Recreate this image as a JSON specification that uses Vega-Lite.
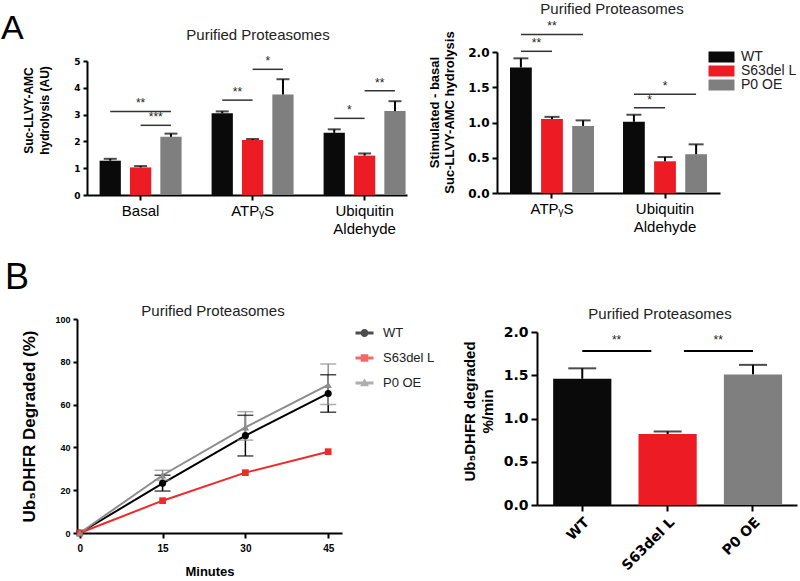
{
  "$schema": "https://vega.github.io/schema/vega-lite/v6.json",
  "autosize": {"type": "none"},
  "padding": {"left": 77, "top": 52, "right": 723, "bottom": 529},
  "config": {
    "font": "Liberation Sans",
    "view": {"stroke": null},
    "axis": {"domainColor": "#000", "domainWidth": 2, "tickColor": "#000", "tickWidth": 2, "labelColor": "#000", "titleColor": "#000", "grid": false, "labelFont": "Liberation Sans", "titleFont": "Liberation Sans", "labelOverlap": false},
    "title": {"font": "Liberation Sans", "fontWeight": "normal", "color": "#222", "fontSize": 15},
    "legend": {"labelFont": "Liberation Sans", "labelColor": "#222"}
  },
  "datasets": {
    "tl": [
      {"cond": "Basal", "series": "WT", "mean": 1.28, "hi": 1.35},
      {"cond": "Basal", "series": "S63del L", "mean": 1.03, "hi": 1.08},
      {"cond": "Basal", "series": "P0 OE", "mean": 2.17, "hi": 2.29},
      {"cond": "ATPᵧS", "series": "WT", "mean": 3.05, "hi": 3.12},
      {"cond": "ATPᵧS", "series": "S63del L", "mean": 2.05, "hi": 2.09},
      {"cond": "ATPᵧS", "series": "P0 OE", "mean": 3.75, "hi": 4.32},
      {"cond": "Ubiquitin Aldehyde", "series": "WT", "mean": 2.32, "hi": 2.45},
      {"cond": "Ubiquitin Aldehyde", "series": "S63del L", "mean": 1.47, "hi": 1.55},
      {"cond": "Ubiquitin Aldehyde", "series": "P0 OE", "mean": 3.13, "hi": 3.5}
    ],
    "tlsig": [
      {"cond": "Basal", "pair": "WG", "y": 3.12, "label": "**"},
      {"cond": "Basal", "pair": "RG", "y": 2.6, "label": "***"},
      {"cond": "ATPᵧS", "pair": "WR", "y": 3.54, "label": "**"},
      {"cond": "ATPᵧS", "pair": "RG", "y": 4.69, "label": "*"},
      {"cond": "Ubiquitin Aldehyde", "pair": "WR", "y": 2.86, "label": "*"},
      {"cond": "Ubiquitin Aldehyde", "pair": "RG", "y": 3.89, "label": "**"}
    ],
    "tr": [
      {"cond": "ATPᵧS", "series": "WT", "mean": 1.78, "hi": 1.91},
      {"cond": "ATPᵧS", "series": "S63del L", "mean": 1.05, "hi": 1.08},
      {"cond": "ATPᵧS", "series": "P0 OE", "mean": 0.95, "hi": 1.03},
      {"cond": "Ubiquitin Aldehyde", "series": "WT", "mean": 1.01, "hi": 1.11},
      {"cond": "Ubiquitin Aldehyde", "series": "S63del L", "mean": 0.45, "hi": 0.51},
      {"cond": "Ubiquitin Aldehyde", "series": "P0 OE", "mean": 0.55, "hi": 0.69}
    ],
    "trsig": [
      {"cond": "ATPᵧS", "pair": "WG", "y": 2.25, "label": "**"},
      {"cond": "ATPᵧS", "pair": "WR", "y": 2.01, "label": "**"},
      {"cond": "Ubiquitin Aldehyde", "pair": "WG", "y": 1.4, "label": "*"},
      {"cond": "Ubiquitin Aldehyde", "pair": "WR", "y": 1.21, "label": "*"}
    ],
    "bl": [
      {"minute": 0, "series": "WT", "value": 0, "lo": null, "hi": null},
      {"minute": 15, "series": "WT", "value": 23.2, "lo": 19.6, "hi": 27},
      {"minute": 30, "series": "WT", "value": 45.5, "lo": 36, "hi": 55},
      {"minute": 45, "series": "WT", "value": 65.2, "lo": 56.4, "hi": 74},
      {"minute": 0, "series": "S63del L", "value": 0, "lo": null, "hi": null},
      {"minute": 15, "series": "S63del L", "value": 15.1, "lo": null, "hi": null},
      {"minute": 30, "series": "S63del L", "value": 28.2, "lo": null, "hi": null},
      {"minute": 45, "series": "S63del L", "value": 38, "lo": null, "hi": null},
      {"minute": 0, "series": "P0 OE", "value": 0, "lo": null, "hi": null},
      {"minute": 15, "series": "P0 OE", "value": 27, "lo": 24.7, "hi": 29.3},
      {"minute": 30, "series": "P0 OE", "value": 49.4, "lo": 43.4, "hi": 56.7},
      {"minute": 45, "series": "P0 OE", "value": 69.2, "lo": 60, "hi": 79}
    ],
    "br": [
      {"series": "WT", "mean": 1.46, "hi": 1.58},
      {"series": "S63del L", "mean": 0.82, "hi": 0.85},
      {"series": "P0 OE", "mean": 1.51, "hi": 1.62}
    ],
    "brsig": [
      {"from": "WT", "to": "S63del L", "y": 1.78, "label": "**"},
      {"from": "S63del L", "to": "P0 OE", "y": 1.78, "label": "**"}
    ]
  },
  "spacing": 0,
  "bounds": "flush",
  "resolve": {"scale": {"color": "independent", "shape": "independent", "xOffset": "independent"}, "legend": {"color": "independent", "shape": "independent"}},
  "vconcat": [
    {
      "spacing": 0,
      "bounds": "flush",
      "resolve": {"scale": {"color": "independent", "shape": "independent", "xOffset": "independent"}, "legend": {"color": "independent", "shape": "independent"}},
      "hconcat": [
        {
          "columns": 2,
          "spacing": 0,
          "bounds": "flush",
          "resolve": {"scale": {"color": "independent", "shape": "independent", "xOffset": "independent"}, "legend": {"color": "independent", "shape": "independent"}},
          "concat": [
            {"width": 10, "height": 9, "data": {"values": [{"s": 1}]}, "mark": {"type": "point", "opacity": 0, "size": 0}, "encoding": {}},
            {"width": 1, "height": 1, "data": {"values": [{"s": 1}]}, "mark": {"type": "point", "opacity": 0, "size": 0}, "encoding": {}},
            {"width": 1, "height": 1, "data": {"values": [{"s": 1}]}, "mark": {"type": "point", "opacity": 0, "size": 0}, "encoding": {}},
            {
              "width": 320,
              "height": 134,
              "title": {"text": "Purified Proteasomes", "frame": "group", "anchor": "middle", "dx": 11, "offset": 0, "baseline": "alphabetic"},
              "layer": [
                {
                  "data": {"name": "tl"},
                  "mark": {"type": "bar"},
                  "encoding": {
                    "x": {"field": "cond", "type": "nominal", "sort": ["Basal", "ATPᵧS", "Ubiquitin Aldehyde"], "scale": {"domain": ["Basal", "ATPᵧS", "Ubiquitin Aldehyde"], "paddingInner": 0.268, "paddingOuter": 0.0625, "align": 0.9}, "axis": {"title": null, "labelAngle": 0, "labelFontSize": 15, "labelOverlap": false, "labelExpr": "datum.value == 'Ubiquitin Aldehyde' ? ['Ubiquitin', 'Aldehyde'] : datum.value", "labelLineHeight": 18, "tickSize": 5, "labelPadding": 3}},
                    "xOffset": {"field": "series", "type": "nominal", "sort": ["WT", "S63del L", "P0 OE"], "scale": {"domain": ["WT", "S63del L", "P0 OE"], "paddingInner": 0.3, "paddingOuter": 0}},
                    "y": {"field": "mean", "type": "quantitative", "scale": {"domain": [0, 5], "nice": false}, "axis": {"title": ["Suc-LLVY-AMC", "hydrolysis (AU)"], "values": [0, 1, 2, 3, 4, 5], "tickCount": 10, "format": "d", "labelOverlap": false, "labelFlush": false, "labelFont": "DejaVu Sans", "labelFontSize": 9, "labelFontWeight": "bold", "tickSize": 4, "labelPadding": 3, "titleFontSize": 12, "titleFontWeight": "bold", "titlePadding": 22, "titleY": 49, "titleLineHeight": 16}},
                    "color": {"field": "series", "type": "nominal", "scale": {"domain": ["WT", "S63del L", "P0 OE"], "range": ["#0a0a0a", "#ed1c24", "#7f7f7f"]}, "legend": null}
                  }
                },
                {
                  "data": {"name": "tl"},
                  "mark": {"type": "rule", "color": "#000", "strokeWidth": 2},
                  "encoding": {
                    "x": {"field": "cond", "type": "nominal"},
                    "xOffset": {"field": "series", "type": "nominal"},
                    "y": {"field": "mean", "type": "quantitative"},
                    "y2": {"field": "hi"}
                  }
                },
                {
                  "data": {"name": "tl"},
                  "mark": {"type": "tick", "orient": "horizontal", "size": 13, "thickness": 2, "color": "#000"},
                  "encoding": {
                    "x": {"field": "cond", "type": "nominal"},
                    "xOffset": {"field": "series", "type": "nominal"},
                    "y": {"field": "hi", "type": "quantitative"}
                  }
                },
                {
                  "data": {"name": "tlsig"},
                  "transform": [{"filter": "datum.pair === 'WG'"}],
                  "mark": {"type": "rule", "color": "#333", "strokeWidth": 1.5},
                  "encoding": {"x": {"field": "cond", "type": "nominal", "bandPosition": 0.13}, "x2": {"field": "cond", "bandPosition": 0.87}, "y": {"field": "y", "type": "quantitative"}}
                },
                {
                  "data": {"name": "tlsig"},
                  "transform": [{"filter": "datum.pair === 'WG'"}],
                  "mark": {"type": "text", "baseline": "bottom", "dy": -1, "fontSize": 12, "color": "#222"},
                  "encoding": {"x": {"field": "cond", "type": "nominal", "bandPosition": 0.5}, "y": {"field": "y", "type": "quantitative"}, "text": {"field": "label"}}
                },
                {
                  "data": {"name": "tlsig"},
                  "transform": [{"filter": "datum.pair === 'RG'"}],
                  "mark": {"type": "rule", "color": "#333", "strokeWidth": 1.5},
                  "encoding": {"x": {"field": "cond", "type": "nominal", "bandPosition": 0.5}, "x2": {"field": "cond", "bandPosition": 0.87}, "y": {"field": "y", "type": "quantitative"}}
                },
                {
                  "data": {"name": "tlsig"},
                  "transform": [{"filter": "datum.pair === 'RG'"}],
                  "mark": {"type": "text", "baseline": "bottom", "dy": -1, "fontSize": 12, "color": "#222"},
                  "encoding": {"x": {"field": "cond", "type": "nominal", "bandPosition": 0.685}, "y": {"field": "y", "type": "quantitative"}, "text": {"field": "label"}}
                },
                {
                  "data": {"name": "tlsig"},
                  "transform": [{"filter": "datum.pair === 'WR'"}],
                  "mark": {"type": "rule", "color": "#333", "strokeWidth": 1.5},
                  "encoding": {"x": {"field": "cond", "type": "nominal", "bandPosition": 0.13}, "x2": {"field": "cond", "bandPosition": 0.5}, "y": {"field": "y", "type": "quantitative"}}
                },
                {
                  "data": {"name": "tlsig"},
                  "transform": [{"filter": "datum.pair === 'WR'"}],
                  "mark": {"type": "text", "baseline": "bottom", "dy": -1, "fontSize": 12, "color": "#222"},
                  "encoding": {"x": {"field": "cond", "type": "nominal", "bandPosition": 0.315}, "y": {"field": "y", "type": "quantitative"}, "text": {"field": "label"}}
                }
              ]
            }
          ]
        },
        {"width": 420, "height": 1, "title": {"text": "A", "anchor": "start", "frame": "group", "dx": -76, "offset": -21, "fontSize": 34, "color": "#000", "baseline": "alphabetic"}, "data": {"values": [{"s": 1}]}, "mark": {"type": "point", "opacity": 0, "size": 0}, "encoding": {}},
        {
          "width": 223,
          "height": 141,
          "title": {"text": "Purified Proteasomes", "frame": "group", "anchor": "middle", "dx": 3.5, "offset": -9, "baseline": "alphabetic"},
          "layer": [
            {
              "data": {"name": "tr"},
              "mark": {"type": "bar"},
              "encoding": {
                "x": {"field": "cond", "type": "nominal", "sort": ["ATPᵧS", "Ubiquitin Aldehyde"], "scale": {"domain": ["ATPᵧS", "Ubiquitin Aldehyde"], "paddingInner": 0.257, "paddingOuter": 0.115, "align": 0.5}, "axis": {"title": null, "labelAngle": 0, "labelFontSize": 15, "labelOverlap": false, "labelExpr": "datum.value == 'Ubiquitin Aldehyde' ? ['Ubiquitin', 'Aldehyde'] : datum.value", "labelLineHeight": 18, "tickSize": 5, "labelPadding": 3}},
                "xOffset": {"field": "series", "type": "nominal", "sort": ["WT", "S63del L", "P0 OE"], "scale": {"domain": ["WT", "S63del L", "P0 OE"], "paddingInner": 0.3, "paddingOuter": 0}},
                "y": {"field": "mean", "type": "quantitative", "scale": {"domain": [0, 2], "nice": false}, "axis": {"title": ["Stimulated - basal", "Suc-LLVY-AMC hydrolysis"], "values": [0, 0.5, 1, 1.5, 2], "tickCount": 10, "format": ".1f", "labelOverlap": false, "labelFlush": false, "labelFont": "DejaVu Sans", "labelFontSize": 12, "labelFontWeight": "bold", "tickSize": 5, "labelPadding": 3, "titleFontSize": 13, "titleFontWeight": "bold", "titlePadding": 11, "titleY": 60, "titleLineHeight": 15}},
                "color": {"field": "series", "type": "nominal", "scale": {"domain": ["WT", "S63del L", "P0 OE"], "range": ["#0a0a0a", "#ed1c24", "#7f7f7f"]}, "legend": {"orient": "none", "legendX": 217.5, "legendY": -2, "title": null, "symbolType": "M-2.36,-1H2.36V1H-2.36Z", "symbolSize": 121, "symbolStrokeWidth": 0, "labelFontSize": 14, "labelOffset": 12.5, "rowPadding": -1, "padding": 0}}
              }
            },
            {
              "data": {"name": "tr"},
              "mark": {"type": "rule", "color": "#000", "strokeWidth": 2},
              "encoding": {
                "x": {"field": "cond", "type": "nominal"},
                "xOffset": {"field": "series", "type": "nominal"},
                "y": {"field": "mean", "type": "quantitative"},
                "y2": {"field": "hi"}
              }
            },
            {
              "data": {"name": "tr"},
              "mark": {"type": "tick", "orient": "horizontal", "size": 15, "thickness": 2, "color": "#000"},
              "encoding": {
                "x": {"field": "cond", "type": "nominal"},
                "xOffset": {"field": "series", "type": "nominal"},
                "y": {"field": "hi", "type": "quantitative"}
              }
            },
            {
              "data": {"name": "trsig"},
              "transform": [{"filter": "datum.pair === 'WG'"}],
              "mark": {"type": "rule", "color": "#333", "strokeWidth": 1.5},
              "encoding": {"x": {"field": "cond", "type": "nominal", "bandPosition": 0.13}, "x2": {"field": "cond", "bandPosition": 0.87}, "y": {"field": "y", "type": "quantitative"}}
            },
            {
              "data": {"name": "trsig"},
              "transform": [{"filter": "datum.pair === 'WG'"}],
              "mark": {"type": "text", "baseline": "bottom", "dy": -1, "fontSize": 12, "color": "#222"},
              "encoding": {"x": {"field": "cond", "type": "nominal", "bandPosition": 0.5}, "y": {"field": "y", "type": "quantitative"}, "text": {"field": "label"}}
            },
            {
              "data": {"name": "trsig"},
              "transform": [{"filter": "datum.pair === 'WR'"}],
              "mark": {"type": "rule", "color": "#333", "strokeWidth": 1.5},
              "encoding": {"x": {"field": "cond", "type": "nominal", "bandPosition": 0.13}, "x2": {"field": "cond", "bandPosition": 0.5}, "y": {"field": "y", "type": "quantitative"}}
            },
            {
              "data": {"name": "trsig"},
              "transform": [{"filter": "datum.pair === 'WR'"}],
              "mark": {"type": "text", "baseline": "bottom", "dy": -1, "fontSize": 12, "color": "#222"},
              "encoding": {"x": {"field": "cond", "type": "nominal", "bandPosition": 0.315}, "y": {"field": "y", "type": "quantitative"}, "text": {"field": "label"}}
            }
          ]
        }
      ]
    },
    {"width": 1, "height": 267, "data": {"values": [{"s": 1}]}, "mark": {"type": "point", "opacity": 0, "size": 0}, "encoding": {}},
    {
      "spacing": 0,
      "bounds": "flush",
      "resolve": {"scale": {"color": "independent", "shape": "independent", "xOffset": "independent"}, "legend": {"color": "independent", "shape": "independent"}},
      "hconcat": [
        {
          "width": 265,
          "height": 214,
          "title": {"text": "Purified Proteasomes", "frame": "group", "anchor": "middle", "dx": 3.5, "offset": -16, "baseline": "alphabetic"},
          "data": {"name": "bl"},
          "layer": [
            {
              "mark": {"type": "point", "filled": true, "size": 0},
              "encoding": {
                "x": {"field": "minute", "type": "quantitative", "scale": {"domain": [-0.5, 47.5], "nice": false, "zero": false}, "axis": {"values": [0, 15, 30, 45], "tickCount": 10, "format": "d", "labelOverlap": false, "labelFontSize": 10, "labelFontWeight": "bold", "tickSize": 5, "labelPadding": 5, "title": "Minutes", "titleFontSize": 13, "titleFontWeight": "bold", "titlePadding": 12}},
                "y": {"field": "value", "type": "quantitative", "scale": {"domain": [0, 100], "nice": false}, "axis": {"values": [0, 20, 40, 60, 80, 100], "tickCount": 10, "format": "d", "labelOverlap": false, "labelFlush": false, "labelFontSize": 9, "labelFontWeight": "bold", "tickSize": 4, "labelPadding": 3, "title": "Ub₅DHFR Degraded (%)", "titleFontSize": 17, "titleFontWeight": "bold", "titlePadding": 16}},
                "color": {"field": "series", "type": "nominal", "scale": {"domain": ["WT", "S63del L", "P0 OE"], "range": ["#000000", "#ee2a2a", "#8c8c8c"]}, "legend": {"orient": "none", "legendX": 281, "legendY": 7.5, "title": null, "symbolSize": 64, "symbolOpacity": 1, "symbolStrokeWidth": 0, "symbolType": {"expr": "datum.value === 'WT' ? 'M-2.25,-0.35H2.25V0.35H-2.25Z M1,0A1,1 0 1,1 -1,0A1,1 0 1,1 1,0Z' : datum.value === 'S63del L' ? 'M-2.25,-0.35H2.25V0.35H-2.25Z M-0.95,-0.95H0.95V0.95H-0.95Z' : 'M-2.25,-0.35H2.25V0.35H-2.25Z M0,-1.2L1.1,0.8H-1.1Z'"}, "labelFontSize": 13, "labelOffset": 12, "rowPadding": 11, "padding": 0}}
              }
            },
            {
              "mark": {"type": "line", "strokeWidth": 2},
              "encoding": {
                "x": {"field": "minute", "type": "quantitative"},
                "y": {"field": "value", "type": "quantitative"},
                "color": {"field": "series", "type": "nominal"}
              }
            },
            {
              "transform": [{"filter": "isValid(datum.lo)"}],
              "mark": {"type": "rule", "strokeWidth": 1.5},
              "encoding": {
                "x": {"field": "minute", "type": "quantitative"},
                "y": {"field": "lo", "type": "quantitative"},
                "y2": {"field": "hi"},
                "color": {"field": "series", "type": "nominal"}
              }
            },
            {
              "transform": [{"filter": "isValid(datum.lo)"}],
              "mark": {"type": "tick", "orient": "horizontal", "size": 16, "thickness": 1.5},
              "encoding": {
                "x": {"field": "minute", "type": "quantitative"},
                "y": {"field": "lo", "type": "quantitative"},
                "color": {"field": "series", "type": "nominal"}
              }
            },
            {
              "transform": [{"filter": "isValid(datum.hi)"}],
              "mark": {"type": "tick", "orient": "horizontal", "size": 16, "thickness": 1.5},
              "encoding": {
                "x": {"field": "minute", "type": "quantitative"},
                "y": {"field": "hi", "type": "quantitative"},
                "color": {"field": "series", "type": "nominal"}
              }
            },
            {
              "transform": [{"filter": "datum.series === 'WT'"}],
              "mark": {"type": "point", "filled": true, "shape": "circle", "size": 50, "opacity": 1},
              "encoding": {
                "x": {"field": "minute", "type": "quantitative"},
                "y": {"field": "value", "type": "quantitative"},
                "color": {"field": "series", "type": "nominal"}
              }
            },
            {
              "transform": [{"filter": "datum.series === 'S63del L'"}],
              "mark": {"type": "point", "filled": true, "shape": "square", "size": 45, "opacity": 1},
              "encoding": {
                "x": {"field": "minute", "type": "quantitative"},
                "y": {"field": "value", "type": "quantitative"},
                "color": {"field": "series", "type": "nominal"}
              }
            },
            {
              "transform": [{"filter": "datum.series === 'P0 OE'"}],
              "mark": {"type": "point", "filled": true, "shape": "triangle-up", "size": 55, "opacity": 1},
              "encoding": {
                "x": {"field": "minute", "type": "quantitative"},
                "y": {"field": "value", "type": "quantitative"},
                "color": {"field": "series", "type": "nominal"}
              }
            }
          ]
        },
        {"width": 195, "height": 1, "title": {"text": "B", "anchor": "start", "frame": "group", "dx": -337, "offset": -6, "fontSize": 36, "color": "#000", "baseline": "alphabetic"}, "data": {"values": [{"s": 1}]}, "mark": {"type": "point", "opacity": 0, "size": 0}, "encoding": {}},
        {
          "spacing": 0,
          "bounds": "flush",
          "vconcat": [
            {"width": 1, "height": 13, "data": {"values": [{"s": 1}]}, "mark": {"type": "point", "opacity": 0, "size": 0}, "encoding": {}},
            {
              "width": 260,
              "height": 173,
              "title": {"text": "Purified Proteasomes", "frame": "group", "anchor": "middle", "dx": -7, "offset": -9, "baseline": "alphabetic"},
              "layer": [
                {
                  "data": {"name": "br"},
                  "mark": {"type": "bar"},
                  "encoding": {
                    "x": {"field": "series", "type": "nominal", "sort": ["WT", "S63del L", "P0 OE"], "scale": {"domain": ["WT", "S63del L", "P0 OE"], "paddingInner": 0.318, "paddingOuter": 0.182, "align": 0.52}, "axis": {"title": null, "labelAngle": -45, "labelOverlap": false, "labelFont": "DejaVu Sans", "labelFontSize": 14, "labelFontWeight": "bold", "tickSize": 6, "labelPadding": 4}},
                    "y": {"field": "mean", "type": "quantitative", "scale": {"domain": [0, 2], "nice": false}, "axis": {"title": ["Ub₅DHFR degraded", "%/min"], "values": [0, 0.5, 1, 1.5, 2], "tickCount": 10, "format": ".1f", "labelOverlap": false, "labelFlush": false, "labelFont": "DejaVu Sans", "labelFontSize": 14, "labelFontWeight": "bold", "tickSize": 6, "labelPadding": 3, "titleFontSize": 15, "titleFontWeight": "bold", "titlePadding": 8, "titleY": 79, "titleLineHeight": 18}},
                    "color": {"field": "series", "type": "nominal", "scale": {"domain": ["WT", "S63del L", "P0 OE"], "range": ["#0a0a0a", "#ed1c24", "#7f7f7f"]}, "legend": null}
                  }
                },
                {
                  "data": {"name": "br"},
                  "mark": {"type": "rule", "color": "#000", "strokeWidth": 2},
                  "encoding": {
                    "x": {"field": "series", "type": "nominal"},
                    "y": {"field": "mean", "type": "quantitative"},
                    "y2": {"field": "hi"}
                  }
                },
                {
                  "data": {"name": "br"},
                  "mark": {"type": "tick", "orient": "horizontal", "size": 28, "thickness": 2, "color": "#000"},
                  "encoding": {
                    "x": {"field": "series", "type": "nominal"},
                    "y": {"field": "hi", "type": "quantitative"}
                  }
                },
                {
                  "data": {"name": "brsig"},
                  "transform": [{"filter": "datum.from === 'WT'"}],
                  "mark": {"type": "rule", "color": "#000", "strokeWidth": 2},
                  "encoding": {"x": {"field": "from", "type": "nominal", "bandPosition": 0.5}, "x2": {"field": "to", "bandPosition": 0.22}, "y": {"field": "y", "type": "quantitative"}}
                },
                {
                  "data": {"name": "brsig"},
                  "transform": [{"filter": "datum.from === 'WT'"}],
                  "mark": {"type": "text", "baseline": "bottom", "dy": -4, "fontSize": 12, "color": "#222"},
                  "encoding": {"x": {"field": "from", "type": "nominal", "bandPosition": 1.09}, "y": {"field": "y", "type": "quantitative"}, "text": {"field": "label"}}
                },
                {
                  "data": {"name": "brsig"},
                  "transform": [{"filter": "datum.from === 'S63del L'"}],
                  "mark": {"type": "rule", "color": "#000", "strokeWidth": 2},
                  "encoding": {"x": {"field": "from", "type": "nominal", "bandPosition": 0.78}, "x2": {"field": "to", "bandPosition": 0.5}, "y": {"field": "y", "type": "quantitative"}}
                },
                {
                  "data": {"name": "brsig"},
                  "transform": [{"filter": "datum.from === 'S63del L'"}],
                  "mark": {"type": "text", "baseline": "bottom", "dy": -4, "fontSize": 12, "color": "#222"},
                  "encoding": {"x": {"field": "from", "type": "nominal", "bandPosition": 1.37}, "y": {"field": "y", "type": "quantitative"}, "text": {"field": "label"}}
                }
              ]
            }
          ]
        }
      ]
    }
  ]
}
